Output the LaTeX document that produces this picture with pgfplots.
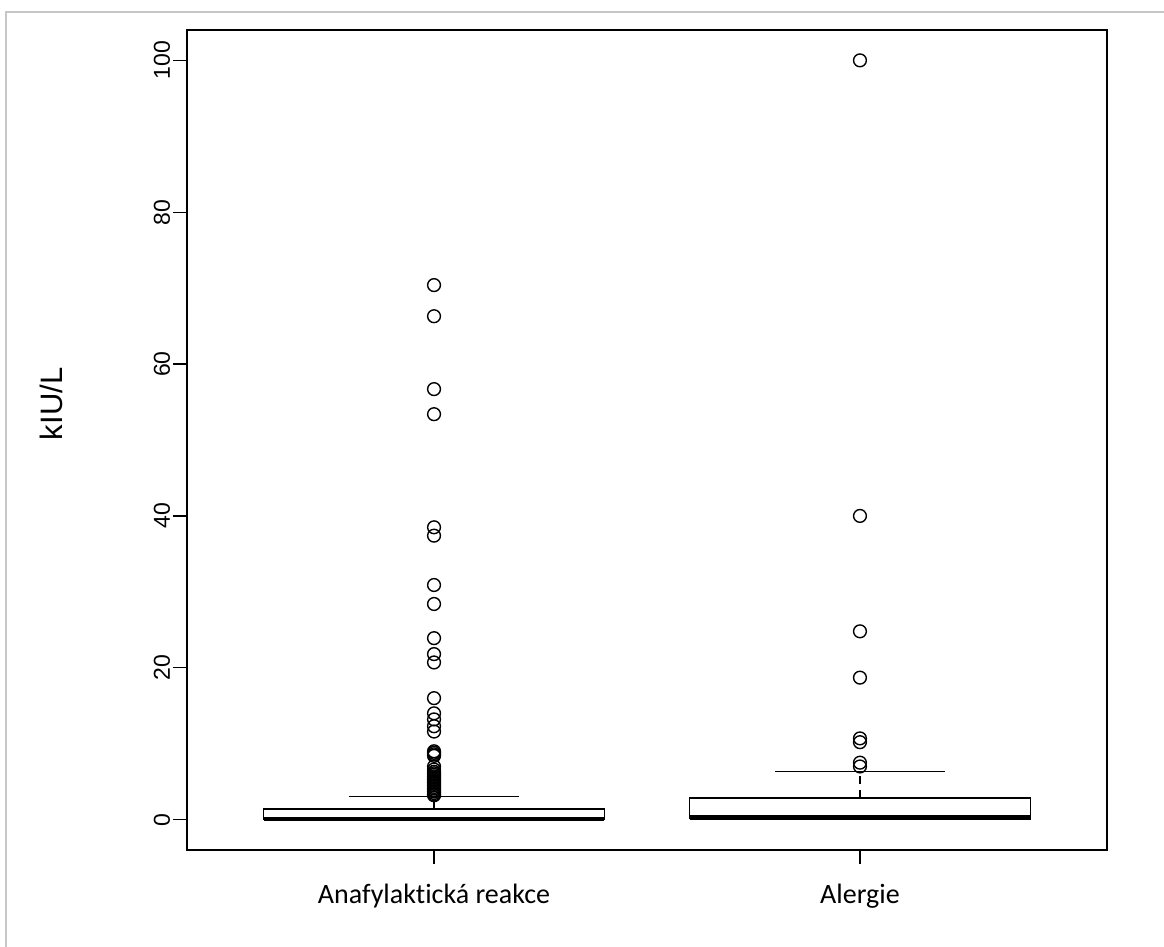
\documentclass[border=0pt]{standalone}
\usepackage{fontspec}
\setmainfont{Liberation Sans}
\newfontfamily\carlito[Ligatures=NoCommon]{Carlito}
\usepackage{pgfplots}
\pgfplotsset{compat=1.18}

% box: q1, q3 ; median ; whisker ends
\pgfplotstableread{
x     y
0.6   0
1.4   0
1.4   1.36
0.6   1.36
0.6   0
}\boxA
\pgfplotstableread{
x     y
1.6   0.05
2.4   0.05
2.4   2.85
1.6   2.85
1.6   0.05
}\boxB

\begin{document}
\begin{tikzpicture}
\path[use as bounding box] (-93.5pt,-48.5pt) rectangle (488.5pt,425pt);
\draw[black!22, line width=0.6pt] (-90.5pt,-48.5pt) -- (-90.5pt,419pt) -- (488.5pt,419pt);
\begin{axis}[
  at={(0,0)}, anchor=south west,
  scale only axis,
  width=460pt, height=410pt,
  xmin=0.42, xmax=2.58,
  ymin=-4, ymax=104,
  xtick={1,2},
  xticklabels={Anafylaktická reakce, Alergie},
  ytick={0,20,40,60,80,100},
  tick pos=left,
  tick align=outside,
  major tick length=7pt,
  axis line style={line width=0.8pt},
  every tick/.style={black, line width=0.7pt},
  /pgf/number format/assume math mode=true,
  xticklabel style={font=\carlito\fontsize{14}{16}\selectfont, anchor=base, yshift=-20pt},
  yticklabel style={font=\fontsize{11.5}{13}\selectfont, rotate=90, anchor=base},
  yticklabel shift=1.5pt,
  ylabel={kIU/L},
  ylabel style={font=\fontsize{15.5}{17}\selectfont, at={(rel axis cs:-0.135,0.544)}, anchor=base},
]
% Anafylakticka reakce
\addplot[draw=black, fill=white, line width=0.8pt, line join=miter] table {\boxA};
\addplot[black, line width=2.2pt] coordinates {(0.6,0.05) (1.4,0.05)};
\addplot[black, line width=0.7pt, dash pattern=on 4pt off 3pt] coordinates {(1,1.36) (1,3.04)};
\addplot[black, line width=0.7pt] coordinates {(0.8,3.04) (1.2,3.04)};
\addplot[only marks, mark=o, mark size=3.2pt, mark options={black, line width=0.7pt}]
coordinates {
  (1,70.4) (1,66.3) (1,56.7) (1,53.4) (1,38.5) (1,37.4) (1,30.9) (1,28.4)
  (1,23.9) (1,21.8) (1,20.7) (1,16.0) (1,14.0) (1,13.2) (1,12.3) (1,11.6)
  (1,9.0) (1,8.8) (1,8.6) (1,8.4) (1,7.0) (1,6.6) (1,6.3) (1,6.1)
  (1,5.9) (1,5.7) (1,5.5) (1,5.3) (1,5.1) (1,4.9) (1,4.7) (1,4.5)
  (1,4.3) (1,4.1) (1,3.9) (1,3.7) (1,3.5) (1,3.3) (1,3.2)
};
% Alergie
\addplot[draw=black, fill=white, line width=0.8pt, line join=miter] table {\boxB};
\addplot[black, line width=2.2pt] coordinates {(1.6,0.35) (2.4,0.35)};
\addplot[black, line width=0.7pt, dash pattern=on 4pt off 3pt] coordinates {(2,2.85) (2,6.34)};
\addplot[black, line width=0.7pt] coordinates {(1.8,6.34) (2.2,6.34)};
\addplot[only marks, mark=o, mark size=3.2pt, mark options={black, line width=0.7pt}]
coordinates {
  (2,100) (2,40.0) (2,24.8) (2,18.7) (2,10.7) (2,10.2) (2,7.5) (2,7.0)
};
\end{axis}
\end{tikzpicture}
\end{document}
